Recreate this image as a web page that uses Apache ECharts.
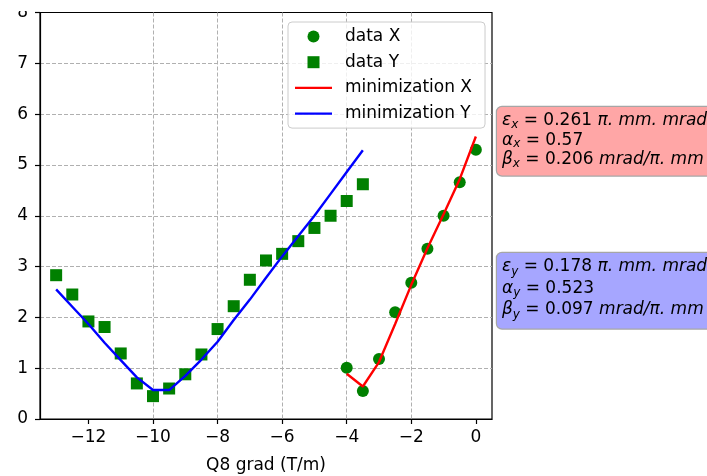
<!DOCTYPE html>
<html>
<head>
<meta charset="utf-8">
<script src="https://cdn.jsdelivr.net/npm/echarts@6/dist/echarts.min.js"></script>
<style>
  html, body { margin: 0; padding: 0; background: #fff; }
  #chart { width: 707px; height: 476px; }
</style>
</head>
<body>
<div id="chart"></div>
<script>
// Quadrupole scan: beam size vs Q8 gradient, measured points and fitted curves
const gradX = [-4, -3.5, -3, -2.5, -2, -1.5, -1, -0.5, 0];
const sizeX = [1.01, 0.55, 1.18, 2.10, 2.68, 3.35, 4.00, 4.66, 5.30];
const fitX  = [0.89, 0.64, 1.12, 1.87, 2.64, 3.36, 4.03, 4.72, 5.56];

const gradY = [-13, -12.5, -12, -11.5, -11, -10.5, -10, -9.5, -9, -8.5,
               -8, -7.5, -7, -6.5, -6, -5.5, -5, -4.5, -4, -3.5];
const sizeY = [2.83, 2.45, 1.92, 1.81, 1.29, 0.70, 0.45, 0.60, 0.88, 1.27,
               1.77, 2.22, 2.74, 3.12, 3.25, 3.50, 3.76, 4.00, 4.29, 4.62];
const fitY  = [2.55, 2.21, 1.87, 1.50, 1.16, 0.82, 0.57, 0.57, 0.85, 1.17,
               1.52, 1.95, 2.35, 2.78, 3.20, 3.60, 4.00, 4.43, 4.86, 5.29];

const xTicks = [-12, -10, -8, -6, -4, -2, 0];

const paramsX = { eps: '0.261', alpha: '0.57', beta: '0.206' };
const paramsY = { eps: '0.178', alpha: '0.523', beta: '0.097' };

const FONT = 'DejaVu Sans';
const LINE_ICON = 'path://M0 0H37V2.4H0Z';
const SQUARE_ICON = 'path://M0 0H10V10H0Z';

const pairs = (xs, ys) => xs.map((x, i) => [x, ys[i]]);
const minus = v => String(v).replace('-', '\u2212');

function richStyles(lh) {
  return {
    g: { fontFamily: FONT, fontStyle: 'italic', fontSize: 17, lineHeight: lh, fill: '#000' },
    s: { fontFamily: FONT, fontStyle: 'italic', fontSize: 12, lineHeight: 12, verticalAlign: 'bottom', fill: '#000' },
    n: { fontFamily: FONT, fontSize: 17, lineHeight: lh, fill: '#000' },
    i: { fontFamily: FONT, fontStyle: 'italic', fontSize: 17, lineHeight: lh, fill: '#000' }
  };
}

function paramText(p, sub) {
  return '{g|\u03b5}{s|' + sub + '}{n| = ' + p.eps + ' }{i|\u03c0. mm. mrad}\n' +
         '{g|\u03b1}{s|' + sub + '}{n| = ' + p.alpha + '}\n' +
         '{g|\u03b2}{s|' + sub + '}{n| = ' + p.beta + ' }{i|mrad/\u03c0. mm}';
}

const axisCommon = {
  type: 'value',
  axisLine: { show: true, onZero: false, lineStyle: { color: '#000', width: 1.2 } },
  splitLine: { show: true, showMinLine: false, showMaxLine: false,
               lineStyle: { color: '#b0b0b0', type: [4, 2], width: 1 } }
};

const option = {
  animation: false,
  backgroundColor: '#fff',
  textStyle: { fontFamily: FONT },
  grid: {
    left: 40, right: 215, top: 12.5, bottom: 57,
    outerBoundsMode: 'none', containLabel: false,
    show: true, borderColor: '#000', borderWidth: 1.2, backgroundColor: 'transparent'
  },
  xAxis: Object.assign({}, axisCommon, {
    min: -13.5, max: 0.5,
    name: 'Q8 grad (T/m)', nameLocation: 'middle', nameGap: 38,
    nameTextStyle: { fontSize: 17, color: '#000', fontFamily: FONT },
    axisTick: { show: true, inside: false, length: 5, customValues: xTicks, lineStyle: { color: '#000', width: 1.2 } },
    axisLabel: { customValues: xTicks, margin: 10, fontSize: 17, color: '#000', fontFamily: FONT, formatter: minus }
  }),
  yAxis: Object.assign({}, axisCommon, {
    min: 0, max: 8, interval: 1,
    axisTick: { show: true, inside: false, length: 5, lineStyle: { color: '#000', width: 1.2 } },
    axisLabel: { margin: 12, fontSize: 17, color: '#000', fontFamily: FONT, formatter: minus }
  }),
  legend: {
    orient: 'vertical', left: 288, top: 22,
    padding: [6, 13, 6, 7], itemGap: 8.7, itemWidth: 37, itemHeight: 12,
    backgroundColor: 'rgba(255,255,255,0.8)', borderColor: '#cccccc', borderWidth: 1, borderRadius: 4,
    textStyle: { fontSize: 17, color: '#000', fontFamily: FONT, lineHeight: 17, padding: [0, 0, 0, 8] },
    data: [
      { name: 'data X', icon: 'circle' },
      { name: 'data Y', icon: SQUARE_ICON },
      { name: 'minimization X', icon: LINE_ICON },
      { name: 'minimization Y', icon: LINE_ICON }
    ]
  },
  series: [
    { name: 'data X', type: 'scatter', data: pairs(gradX, sizeX), symbol: 'circle', symbolSize: 12,
      itemStyle: { color: '#008000', opacity: 1 }, z: 2 },
    { name: 'data Y', type: 'scatter', data: pairs(gradY, sizeY), symbol: 'rect', symbolSize: 12,
      itemStyle: { color: '#008000', opacity: 1 }, z: 2 },
    { name: 'minimization X', type: 'line', data: pairs(gradX, fitX), symbol: 'none', showSymbol: false,
      lineStyle: { color: '#ff0000', width: 2.4 }, itemStyle: { color: '#ff0000' }, z: 3 },
    { name: 'minimization Y', type: 'line', data: pairs(gradY, fitY), symbol: 'none', showSymbol: false,
      lineStyle: { color: '#0000ff', width: 2.4 }, itemStyle: { color: '#0000ff' }, z: 3 }
  ],
  graphic: [
    // top edge of the figure trims the upper part of the "8" label
    { type: 'rect', shape: { x: 0, y: 0, width: 38, height: 11 }, style: { fill: '#fff' }, z: 100 },
    { type: 'text', x: 497, y: 107, z: 100,
      style: {
        text: paramText(paramsX, 'x'), rich: richStyles(19.5),
        fontFamily: FONT, fontSize: 17, fill: '#000',
        backgroundColor: '#ffa6a6', borderColor: 'rgba(0,0,0,0.35)', borderWidth: 1.2,
        borderRadius: 5, padding: [4, 6, 6, 5]
      } },
    { type: 'text', x: 497, y: 253, z: 100,
      style: {
        text: paramText(paramsY, 'y'), rich: richStyles(21.5),
        fontFamily: FONT, fontSize: 17, fill: '#000',
        backgroundColor: '#a6a6ff', borderColor: 'rgba(0,0,0,0.35)', borderWidth: 1.2,
        borderRadius: 5, padding: [3, 6, 8, 5]
      } }
  ]
};

const chart = echarts.init(document.getElementById('chart'), null, { renderer: 'canvas' });
chart.setOption(option);
</script>
</body>
</html>
